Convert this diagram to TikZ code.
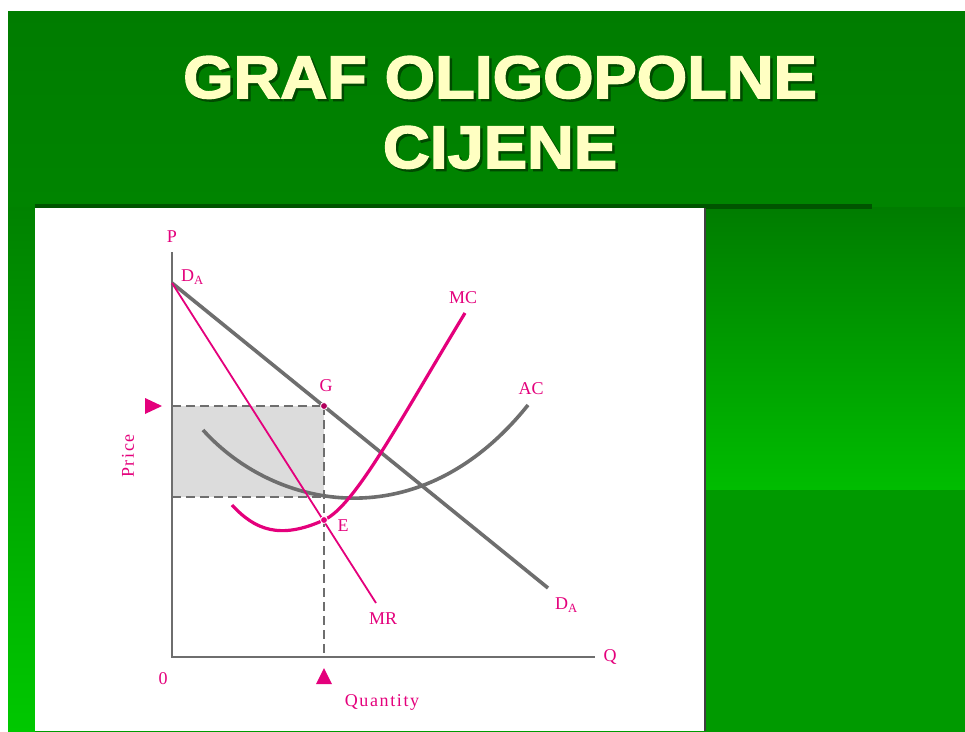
\documentclass[tikz,border=0pt]{standalone}
\usepackage{fontspec}
\setmainfont{Liberation Serif}
\newfontfamily\titlefont[FakeStretch=1.08, FakeBold=2.6]{Liberation Sans Bold}
\usetikzlibrary{arrows.meta,positioning,calc}
\definecolor{verdeosc}{HTML}{007C00}
\definecolor{verdemed}{HTML}{009A00}
\definecolor{verdeclaro}{HTML}{00C800}
\definecolor{verdesomb}{HTML}{004A00}
\definecolor{amarillo}{HTML}{FFFFC2}
\definecolor{rosa}{HTML}{E4007C}
\definecolor{rosaosc}{HTML}{B0005C}
\definecolor{gris}{HTML}{6E6E6E}
\definecolor{relleno}{HTML}{DCDCDC}
\newcommand{\consombra}[1]{\makebox[0pt][l]{\hspace{2.5pt}\raisebox{-2.5pt}{\textcolor{verdesomb}{#1}}}#1}

\begin{document}
\begin{tikzpicture}[
  x=1pt, y=-1pt,
  titulo/.style={font=\titlefont\fontsize{60}{64}\selectfont,
    text=amarillo, anchor=base, inner sep=0pt},
  eje/.style={draw=gris, line width=1.6pt},
  gruesa/.style={draw=gris, line width=3.6pt},
  curva/.style={draw=rosa, line width=3.2pt},
  fina/.style={draw=rosa, line width=1.8pt},
  guia/.style={draw=gris, line width=1.3pt, dash pattern=on 9pt off 5pt},
  etiq/.style={text=rosa, font=\fontsize{18}{20}\selectfont, inner sep=1pt},
  espaciada/.style={etiq, font=\fontsize{18}{20}\selectfont\addfontfeature{LetterSpace=9}},
  punto/.style={circle, fill=rosaosc, draw=white, line width=0.8pt,
    inner sep=0pt, minimum size=7pt}
]
  \useasboundingbox (0,0) rectangle (965,731);
  % fondo
  \fill[top color=verdeosc, bottom color=verdemed] (8,11) rectangle (965,731);
  \fill[top color=verdeosc!80!verdemed, bottom color=verdeclaro] (8,207) rectangle (35,731);
  \fill[top color=verdeosc, bottom color=verdeclaro!75!verdemed] (705,207) rectangle (965,490);
  \fill[verdemed] (705,490) rectangle (965,731);
  \fill[verdesomb!80!verdeosc] (35,204) rectangle (872,209);
  \fill[white] (35,208) rectangle (705,731);
  \draw[black!75, line width=1.5pt] (705,208) -- (705,731);

  \node[titulo] (tit1) at (500,98) {\consombra{GRAF OLIGOPOLNE}};
  \node[titulo] (tit2) at (500,168) {\consombra{CIJENE}};

  \coordinate (O) at (172,657);
  \coordinate (Ptop) at (172,252);
  \coordinate (Qend) at (595,657);
  \coordinate (DA1) at (172,283);
  \coordinate (DA2) at (548,588);
  \coordinate (MR2) at (376,603);
  \coordinate (G) at (324,406);
  \coordinate (E) at (324,520);
  \coordinate (Gx) at (172,406);
  \coordinate (ACy) at (172,497);
  \coordinate (Qx) at (324,657);

  \fill[relleno] (Gx) rectangle (324,497);
  \draw[guia] (Gx) -- (G);
  \draw[guia] (ACy) -- (324,497);
  \draw[guia] (G) -- (Qx);
  \draw[eje] (Ptop) -- (O) -- (Qend);

  \draw[gruesa] (203,430) .. controls (275,510) and (420,540) .. (528,405);
  \draw[gruesa] (DA1) -- (DA2);
  \draw[curva] (232,505) .. controls (255,530) and (280,540) .. (E)
    .. controls (355,506) and (400,420) .. (465,313);
  \draw[fina] (DA1) -- (MR2);

  \node[punto] (pG) at (G) {};
  \node[punto, fill=rosa] (pE) at (E) {};

  \fill[rosa] (145,398) -- (162,406) -- (145,414) -- cycle;
  \fill[rosa] (316,684) -- (324,668) -- (332,684) -- cycle;

  \node[etiq] (lP) at (172,237) {P};
  \node[etiq, anchor=west] (lDA1) at (180,277) {D\textsubscript{A}};
  \node[etiq] (lMC) at (463,298) {MC};
  \node[etiq] (lG) at (326,386) {G};
  \node[etiq] (lAC) at (531,389) {AC};
  \node[espaciada, rotate=90] (lPrice) at (128,456) {Price};
  \node[etiq] (lE) at (343,526) {E};
  \node[etiq] (lMR) at (383,619) {MR};
  \node[etiq, anchor=west] (lDA2) at (554,605) {D\textsubscript{A}};
  \node[etiq] (lQ) at (610,657) {Q};
  \node[etiq] (l0) at (163,679) {0};
  \node[espaciada] (lQuant) at (382,702) {Quantity};
\end{tikzpicture}
\end{document}
